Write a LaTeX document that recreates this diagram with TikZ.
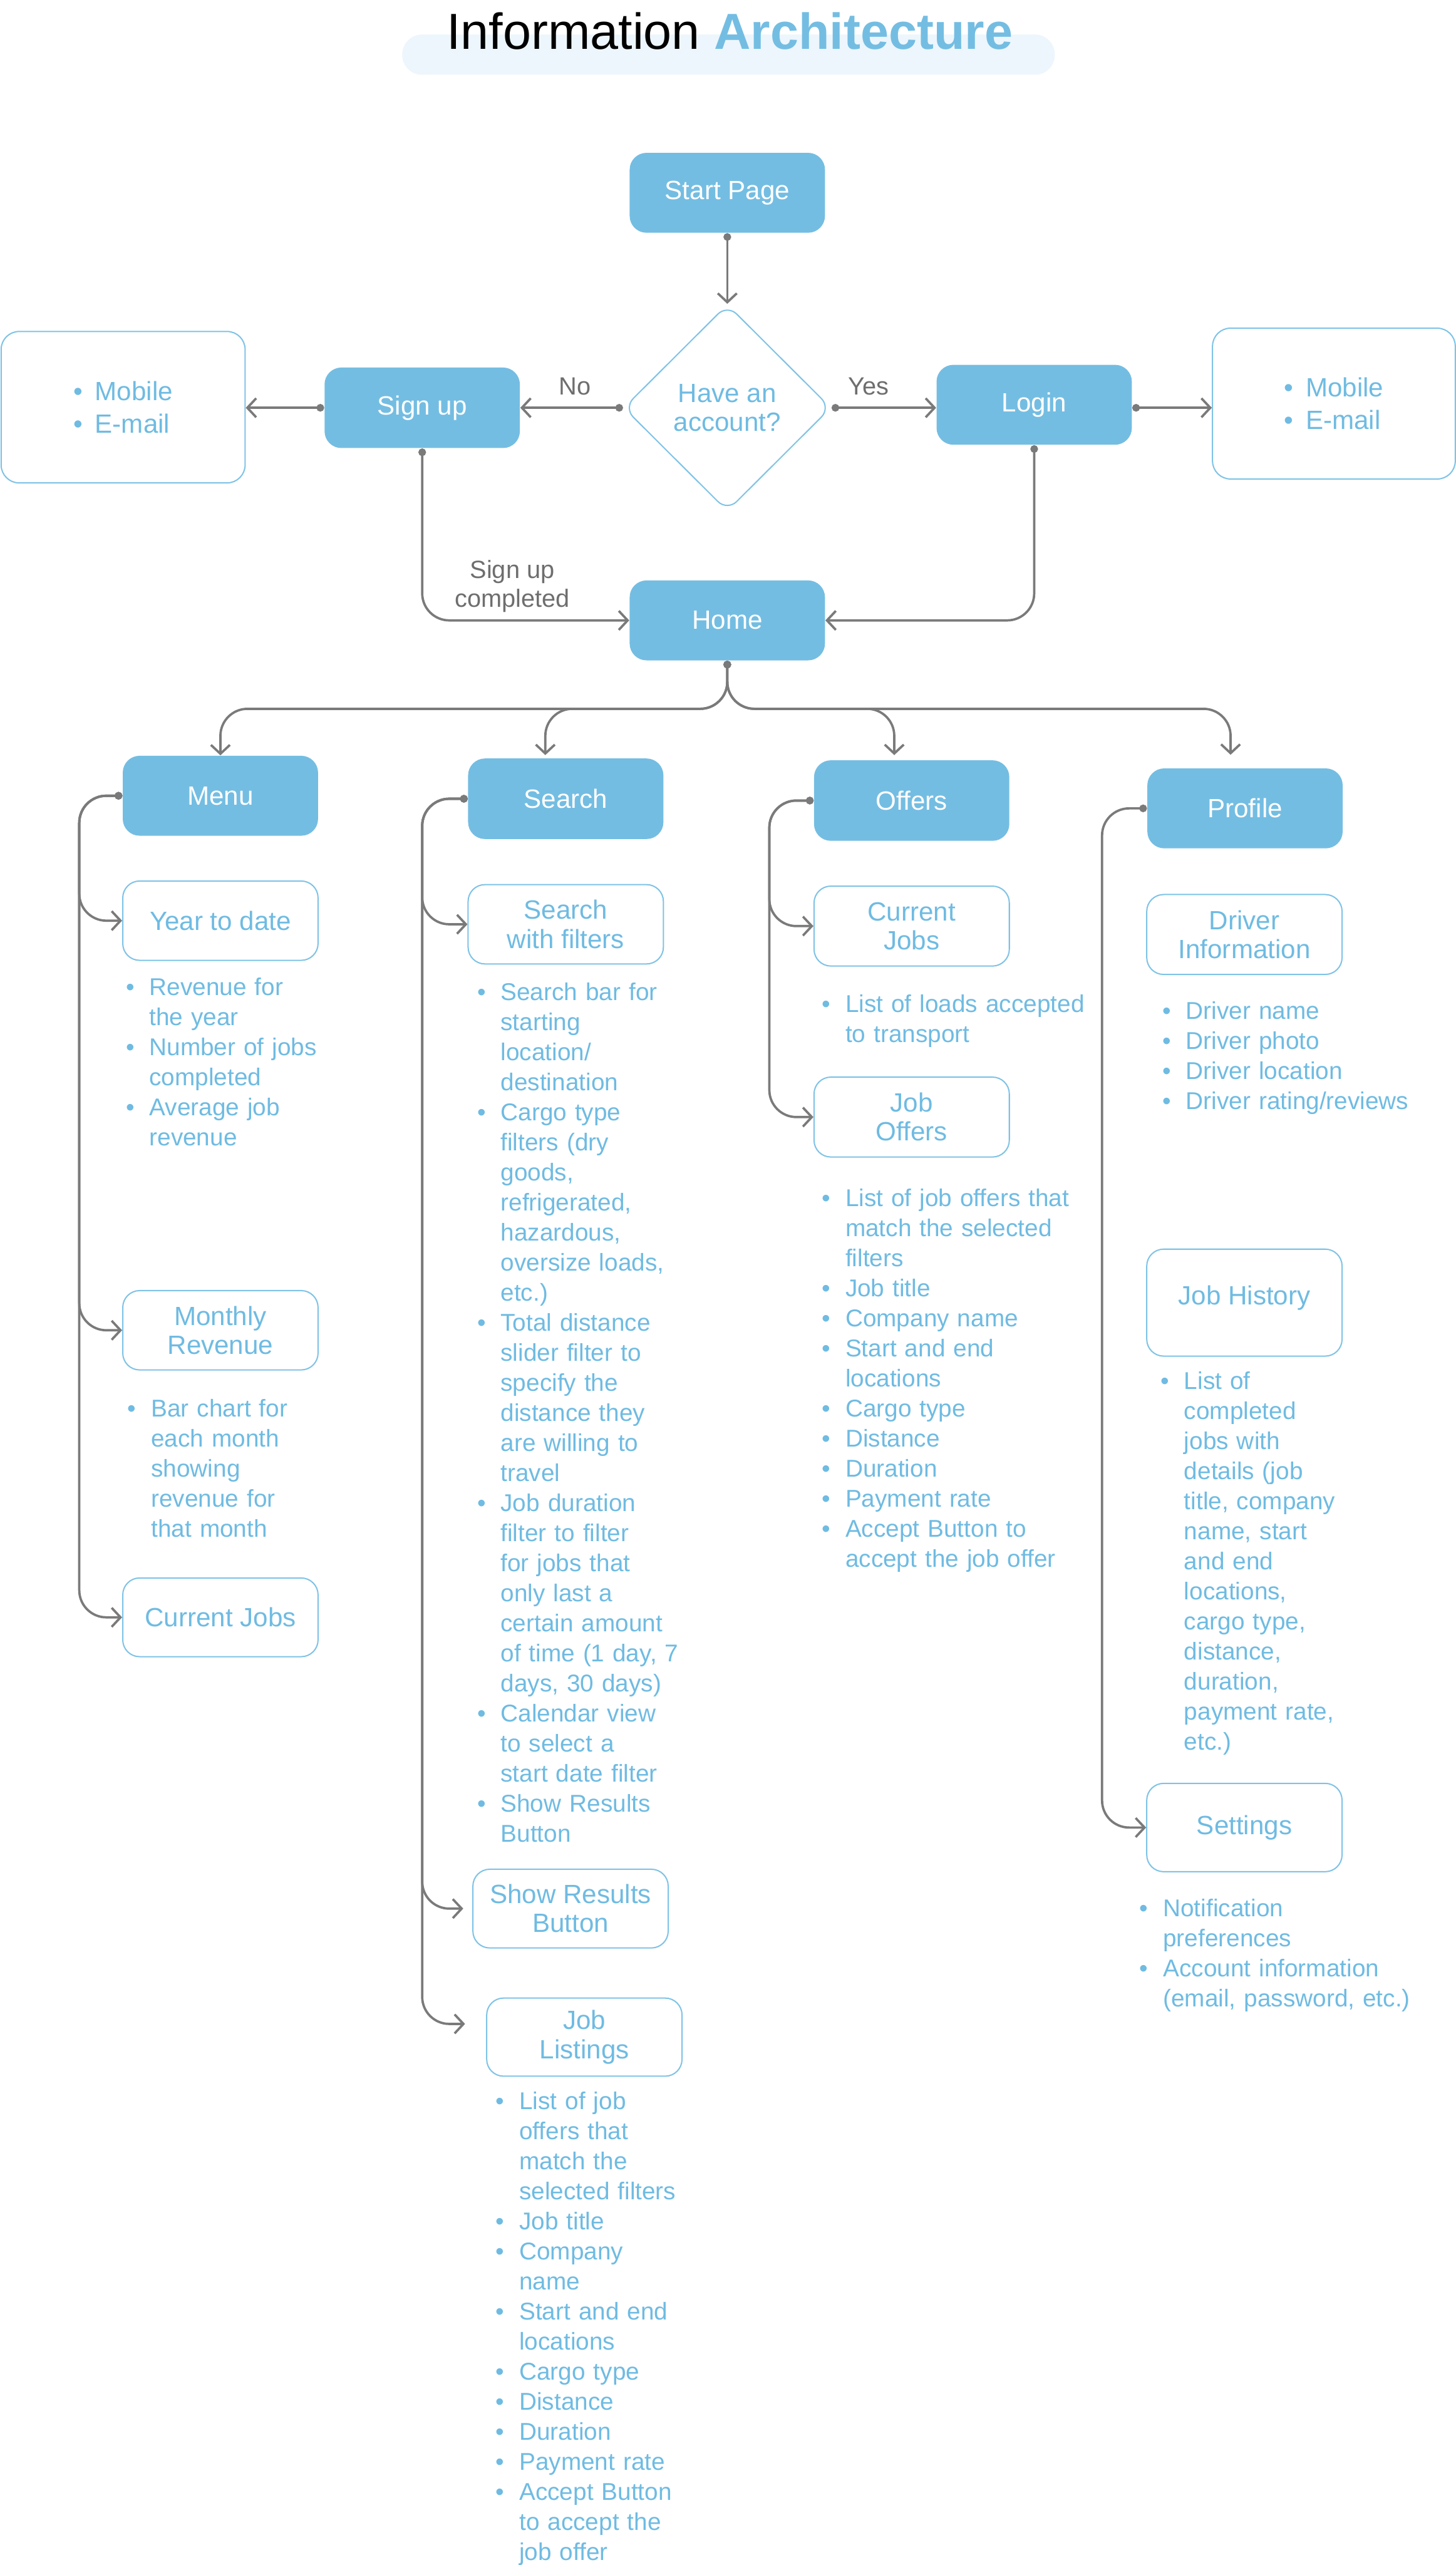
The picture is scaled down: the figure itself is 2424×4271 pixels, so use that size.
\documentclass[tikz,border=0pt]{standalone}
\usepackage{fontspec}
\setmainfont{Liberation Sans}
\usepackage{xcolor}
\usepackage{tikz}
\usetikzlibrary{shapes.geometric,arrows.meta,calc}
\definecolor{sky}{HTML}{74BDE2}
\definecolor{skyink}{HTML}{6FBBE2}
\definecolor{skyedge}{HTML}{7FC3E6}
\definecolor{haze}{HTML}{EDF6FC}
\definecolor{wire}{HTML}{7A7A7A}
\definecolor{tagink}{HTML}{6E6E6E}
\newcommand{\dotitem}{\makebox[0.39cm][l]{\textbullet}}
\newcommand{\carry}{\hspace*{0.39cm}}
\newcommand{\notelist}[4]{%
  \node[notes] (#1) at (#2,#3) {#4};}

\begin{document}
\begin{tikzpicture}[x=0.01cm, y=-0.01cm,
  page/.style={rectangle, rounded corners=0.28cm, fill=sky, text=white,
    minimum width=3.25cm, minimum height=1.33cm, inner sep=0pt,
    align=center, font=\fontsize{12.5}{13.7}\selectfont},
  screen/.style={rectangle, rounded corners=0.28cm, draw=skyedge, line width=0.6pt,
    fill=white, text=skyink, minimum width=3.25cm, minimum height=1.32cm,
    inner sep=0pt, align=center, font=\fontsize{12.5}{13.7}\selectfont},
  notes/.style={anchor=base west, inner sep=0pt, text width=6cm, align=left,
    text=skyink, font=\fontsize{11.5}{14.23}\selectfont},
  link/.style={draw=wire, line width=1.1pt, rounded corners=0.45cm,
    {Circle[length=3.6pt]}-{Straight Barb[length=4.2pt, width=9pt]}},
  tag/.style={text=tagink, align=center, font=\fontsize{11.8}{13.7}\selectfont}]

\useasboundingbox (0,0) rectangle (2424,4271);

% heading
\node[fill=haze, rounded corners=0.33cm, minimum width=10.86cm, minimum height=0.67cm,
  inner sep=0pt] (band) at (1213,91) {};
\node[anchor=base, inner sep=0pt, font=\fontsize{24}{28}\selectfont] (heading)
  at (1215,82) {Information \textbf{\textcolor{sky}{Architecture}}};

% entry
\node[page] (start) at (1211,321) {Start Page};
\node[diamond, aspect=1, draw=skyedge, line width=0.6pt, rounded corners=0.22cm,
  text=skyink, minimum width=3.45cm, minimum height=3.44cm, inner sep=0pt,
  align=center, font=\fontsize{12.5}{13.7}\selectfont] (ask) at (1211,679)
  {Have an\\account?};
\node[page, minimum height=1.34cm] (signup) at (703,679) {Sign up};
\node[page] (login) at (1722,674) {Login};
\node[screen, rounded corners=0.3cm, minimum width=4.06cm, minimum height=2.52cm,
  align=left, font=\fontsize{12.5}{15.37}\selectfont] (signupvia) at (205,678)
  {\makebox[0.36cm][l]{\textbullet}Mobile\\\makebox[0.36cm][l]{\textbullet}E-mail};
\node[screen, rounded corners=0.3cm, minimum width=4.04cm, minimum height=2.51cm,
  align=left, font=\fontsize{12.5}{15.37}\selectfont] (loginvia) at (2221,672)
  {\makebox[0.36cm][l]{\textbullet}Mobile\\\makebox[0.36cm][l]{\textbullet}E-mail};
\node[page] (home) at (1211,1033) {Home};

\node[tag] (nolabel) at (957,643) {No};
\node[tag] (yeslabel) at (1446,643) {Yes};
\node[tag] (donelabel) at (853,976) {Sign up\\completed};

\draw[link] (start.south) -- (ask.north);
\draw[link] (ask.west) -- (signup.east);
\draw[link] (signup.west) -- (signup.west -| signupvia.east);
\draw[link] (ask.east) -- (ask.east -| login.west);
\draw[link] (ask.east -| login.east) -- (ask.east -| loginvia.west);
\draw[link] (signup.south) |- (home.west);
\draw[link] (login.south) |- (home.east);

% sections
\node[page] (menu) at (367,1325) {Menu};
\node[page, minimum height=1.34cm] (search) at (942,1330) {Search};
\node[page, minimum height=1.34cm] (offers) at (1518,1333) {Offers};
\node[page] (profile) at (2073,1346) {Profile};

\draw[link] (home.south) -- ++(0,80) -| (menu.north);
\draw[link] (home.south) -- ++(0,80) -| ($(search.north)+(-34,-5)$);
\draw[link] (home.south) -- ++(0,80) -| ($(offers.north)+(-29,-8)$);
\draw[link] (home.south) -- ++(0,80) -| ($(profile.north)+(-24,-22)$);

% menu
\node[screen] (ytd) at (367,1533) {Year to date};
\node[screen] (monthly) at (367,2215) {Monthly\\Revenue};
\node[screen, minimum height=1.31cm] (menujobs) at (367,2693) {Current Jobs};
\notelist{ytdnotes}{209}{1657}{\dotitem Revenue for\\\carry the year\\
  \dotitem Number of jobs\\\carry completed\\\dotitem Average job\\\carry revenue}
\notelist{monthnotes}{212}{2359}{\dotitem Bar chart for\\\carry each month\\
  \carry showing\\\carry revenue for\\\carry that month}
\coordinate (menurail) at (132,1326);
\draw[link] (menu.west) -- (menu.west -| menurail) |- (ytd.west);
\draw[link] (menu.west) -- (menu.west -| menurail) |- (monthly.west);
\draw[link] (menu.west) -- (menu.west -| menurail) |- (menujobs.west);

% search
\node[screen] (filters) at (942,1539) {Search\\with filters};
\node[screen, minimum height=1.31cm] (results) at (950,3178) {Show Results\\Button};
\node[screen, minimum height=1.3cm] (listings) at (973,3392) {Job\\Listings};
\notelist{searchnotes}{794}{1666}{\dotitem Search bar for\\\carry starting\\
  \carry location/\\\carry destination\\
  \dotitem Cargo type\\\carry filters (dry\\\carry goods,\\\carry refrigerated,\\
  \carry hazardous,\\\carry oversize loads,\\\carry etc.)\\
  \dotitem Total distance\\\carry slider filter to\\\carry specify the\\
  \carry distance they\\\carry are willing to\\\carry travel\\
  \dotitem Job duration\\\carry filter to filter\\\carry for jobs that\\
  \carry only last a\\\carry certain amount\\\carry of time (1 day, 7\\
  \carry days, 30 days)\\
  \dotitem Calendar view\\\carry to select a\\\carry start date filter\\
  \dotitem Show Results\\\carry Button}
\notelist{listingnotes}{825}{3512}{\dotitem List of job\\\carry offers that\\
  \carry match the\\\carry selected filters\\\dotitem Job title\\
  \dotitem Company\\\carry name\\\dotitem Start and end\\\carry locations\\
  \dotitem Cargo type\\\dotitem Distance\\\dotitem Duration\\
  \dotitem Payment rate\\\dotitem Accept Button\\\carry to accept the\\
  \carry job offer}
\coordinate (searchrail) at (703,1332);
\draw[link] (search.west) -- (search.west -| searchrail) |- (filters.west);
\draw[link] (search.west) -- (search.west -| searchrail) |- ($(results.west)+(-15,0)$);
\draw[link] (search.west) -- (search.west -| searchrail) |- ($(listings.west)+(-35,-22)$);

% offers
\node[screen, minimum height=1.33cm] (current) at (1518,1542) {Current\\Jobs};
\node[screen, minimum height=1.33cm] (joboffers) at (1518,1860) {Job\\Offers};
\notelist{currentnotes}{1368}{1686}{\dotitem List of loads accepted\\
  \carry to transport}
\notelist{offernotes}{1368}{2009}{\dotitem List of job offers that\\
  \carry match the selected\\\carry filters\\\dotitem Job title\\
  \dotitem Company name\\\dotitem Start and end\\\carry locations\\
  \dotitem Cargo type\\\dotitem Distance\\\dotitem Duration\\
  \dotitem Payment rate\\\dotitem Accept Button to\\\carry accept the job offer}
\coordinate (offersrail) at (1281,1335);
\draw[link] (offers.west) -- (offers.west -| offersrail) |- (current.west);
\draw[link] (offers.west) -- (offers.west -| offersrail) |- (joboffers.west);

% profile
\node[screen, minimum height=1.33cm] (driver) at (2072,1556) {Driver\\Information};
\node[screen, minimum height=1.78cm] (history) at (2072,2169)
  {\raisebox{0.24cm}{Job History}};
\node[screen, minimum height=1.47cm] (settings) at (2072,3043) {Settings};
\notelist{drivernotes}{1935}{1697}{\dotitem Driver name\\\dotitem Driver photo\\
  \dotitem Driver location\\\dotitem Driver rating/reviews}
\notelist{historynotes}{1932}{2313}{\dotitem List of\\\carry completed\\
  \carry jobs with\\\carry details (job\\\carry title, company\\
  \carry name, start\\\carry and end\\\carry locations,\\\carry cargo type,\\
  \carry distance,\\\carry duration,\\\carry payment rate,\\\carry etc.)}
\notelist{settingsnotes}{1897}{3191}{\dotitem Notification\\\carry preferences\\
  \dotitem Account information\\\carry (email, password, etc.)}
\coordinate (profilerail) at (1835,1348);
\draw[link] (profile.west) -- (profile.west -| profilerail) |- (settings.west);

\end{tikzpicture}
\end{document}
